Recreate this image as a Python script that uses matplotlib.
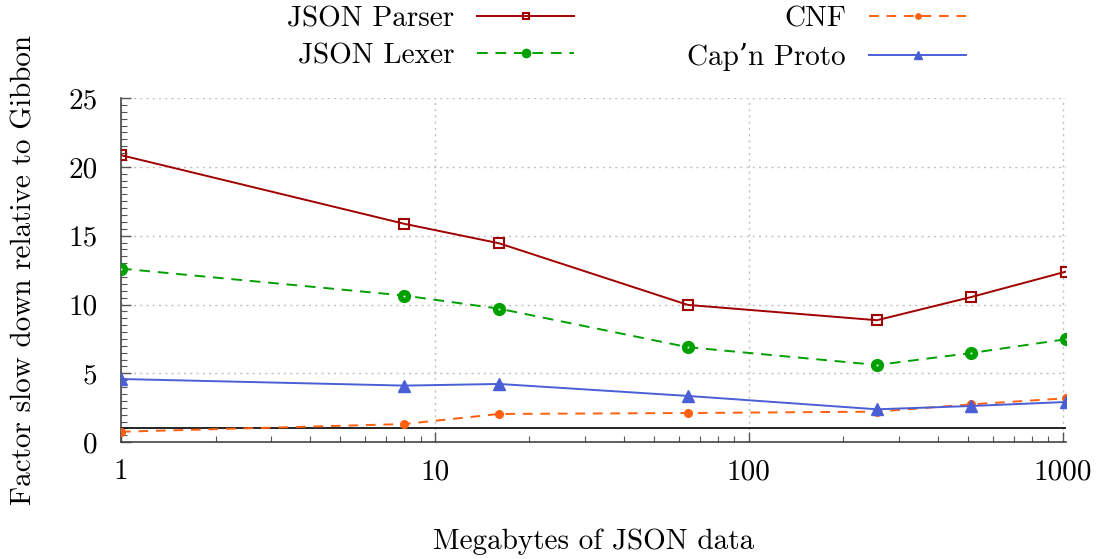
import matplotlib
matplotlib.use("Agg")
import matplotlib.pyplot as plt
from matplotlib.ticker import FixedLocator, FixedFormatter, MultipleLocator, LogLocator, NullFormatter

plt.rcParams['font.family'] = ['cmr10', 'DejaVu Serif']
plt.rcParams['axes.formatter.use_mathtext'] = True

sizes_mb = [1, 8, 16, 64, 256, 512, 1024]
json_parser = [20.85, 15.86, 14.45, 9.97, 8.86, 10.55, 12.39]
json_lexer = [12.61, 10.65, 9.70, 6.90, 5.61, 6.48, 7.48]
cnf = [0.76, 1.32, 2.05, 2.12, 2.22, 2.75, 3.19]
capn_proto = [4.59, 4.11, 4.23, 3.36, 2.39, 2.63, 2.92]
baseline = 1.0

x_ticks = [1, 10, 100, 1000]
x_tick_labels = ["1", "10", "100", "1000"]
y_ticks = [0, 5, 10, 15, 20, 25]
y_tick_labels = ["0", "5", "10", "15", "20", "25"]

fig = plt.figure(figsize=(10.97, 5.59), dpi=100)
ax = fig.add_axes([121/1097, 1-442.2/559, (1066-121)/1097, (442.2-98)/559])

fs = 21
lw = 1.4
ax.plot(sizes_mb, json_parser, color='#a00000', lw=lw, ls='-', marker='s', ms=6.5,
        mfc='none', mec='#a00000', mew=1.5, label='JSON Parser', zorder=5)
ax.plot(sizes_mb, json_lexer, color='#00a000', lw=lw, ls=(0, (5.5, 4)), marker='o', ms=8.5,
        mfc='#00a000', mec='#00a000', label='JSON Lexer', zorder=5)
ax.plot(sizes_mb, json_lexer, ls='none', marker='o', ms=1.6, mfc='#c8f0c8',
        mec='none', zorder=6)
ax.plot(sizes_mb, cnf, color='#ff6010', lw=lw, ls=(0, (5, 4)), marker='o', ms=5.5,
        mfc='#ff6010', mec='#ff6010', label='CNF', zorder=5)
ax.plot(sizes_mb, capn_proto, color='#4a5fd6', lw=lw, ls='-', marker='^', ms=8,
        mfc='#4a5fd6', mec='#4a5fd6', label='Cap\u2019n Proto', zorder=5)
ax.axhline(baseline, color='black', lw=1.2, zorder=4)

ax.set_xscale('log')
ax.set_xlim(1, 1024)
ax.set_ylim(0, 25)

ax.xaxis.set_major_locator(FixedLocator(x_ticks))
ax.xaxis.set_major_formatter(FixedFormatter(x_tick_labels))
ax.xaxis.set_minor_locator(LogLocator(base=10, subs=range(2, 10)))
ax.xaxis.set_minor_formatter(NullFormatter())
ax.yaxis.set_major_locator(FixedLocator(y_ticks))
ax.yaxis.set_major_formatter(FixedFormatter(y_tick_labels))
ax.yaxis.set_minor_locator(MultipleLocator(0.5))

for s in ['top', 'right']:
    ax.spines[s].set_visible(False)
for s in ['left', 'bottom']:
    ax.spines[s].set_color('#444444')
    ax.spines[s].set_linewidth(1.2)

ax.tick_params(axis='both', which='major', direction='in', length=7, width=1.0,
               color='#555555', labelsize=fs)
ax.tick_params(axis='both', which='minor', direction='in', length=4, width=0.8,
               color='#555555')
ax.tick_params(axis='x', which='major', pad=12)
ax.tick_params(axis='y', which='major', pad=17)

ax.grid(True, which='major', color='#c0c0c0', ls=(0, (1.5, 3)), lw=1.0)

ax.set_xlabel('Megabytes of JSON data', fontsize=fs, labelpad=31)
ax.set_ylabel('Factor slow down relative to Gibbon', fontsize=fs, labelpad=22)

fig.legend(loc='upper left', bbox_to_anchor=(287/1097, 1 - 6/559), ncol=2, frameon=False,
           markerfirst=False, fontsize=fs, handlelength=3.3, handletextpad=0.8,
           columnspacing=3.9, labelspacing=0.36, borderaxespad=0, borderpad=0,
           markerscale=0.7)

fig.savefig('out.png', dpi=100)
